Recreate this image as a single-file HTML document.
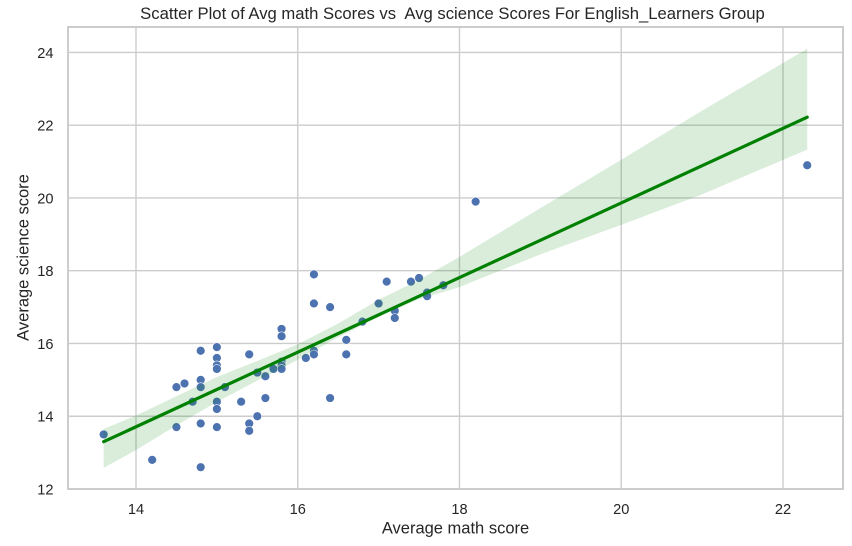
<!DOCTYPE html>
<html>
<head>
<meta charset="utf-8">
<title>Scatter Plot of Avg math Scores vs Avg science Scores</title>
<style>
html,body{margin:0;padding:0;background:#fff;}
body{width:852px;height:546px;overflow:hidden;}
svg{display:block;}
text{font-family:"Liberation Sans",Arial,sans-serif;fill:#262626;white-space:pre;}
</style>
</head>
<body>
<svg id="chart" width="852" height="546" viewBox="0 0 852 546">
  <rect x="0" y="0" width="852" height="546" fill="#fff"/>
  <g id="grid"></g>
  <g id="points"></g>
  <polygon id="band" fill="#008000" fill-opacity="0.145"></polygon>
  <line id="fit" stroke="#008000" stroke-width="3.2" stroke-linecap="round"></line>
  <rect x="68" y="27" width="775" height="462" fill="none" stroke="#cccccc" stroke-width="2"/>
  <g id="ticks"></g>
  <text x="452.5" y="19" text-anchor="middle" font-size="16.65">Scatter Plot of Avg math Scores vs  Avg science Scores For English_Learners Group</text>
  <text x="455.5" y="533.5" text-anchor="middle" font-size="16.5">Average math score</text>
  <text x="0" y="0" transform="translate(28.5 257.5) rotate(-90)" text-anchor="middle" font-size="16.5">Average science score</text>
</svg>
<script>
const xTicks = [14, 16, 18, 20, 22];
const yTicks = [12, 14, 16, 18, 20, 22, 24];
const mathScores = [13.6,14.2,14.5,14.5,14.6,14.7,14.8,14.8,14.8,14.8,14.8,15,15,15,15,15,15,15,15.1,15.3,15.4,15.4,15.4,15.5,15.5,15.6,15.6,15.7,15.8,15.8,15.8,15.8,15.8,16.1,16.2,16.2,16.2,16.2,16.4,16.4,16.6,16.6,16.8,17,17.1,17.2,17.2,17.4,17.5,17.6,17.6,17.8,18.2,22.3];
const scienceScores = [13.5,12.8,14.8,13.7,14.9,14.4,15.8,15.0,14.8,13.8,12.6,15.9,15.6,15.4,15.3,14.4,14.2,13.7,14.8,14.4,15.7,13.8,13.6,15.2,14.0,15.1,14.5,15.3,16.4,16.2,15.5,15.4,15.3,15.6,17.9,17.1,15.8,15.7,17.0,14.5,16.1,15.7,16.6,17.1,17.7,16.9,16.7,17.7,17.8,17.4,17.3,17.6,19.9,20.9];
const fitX = [13.6, 22.3];
const fitY = [13.3, 22.22];
const bandX = [13.6,14,14.5,15,15.5,16,16.5,17,17.5,18,19,20,21,22.3];
const bandUpper = [13.65,14.02,14.55,15.08,15.52,15.98,16.55,17.2,17.75,18.38,19.72,21.05,22.4,24.1];
const bandLower = [12.58,13.07,13.75,14.39,14.98,15.55,16.17,16.73,17.22,17.55,18.45,19.26,20.1,21.33];

const SVGNS = 'http://www.w3.org/2000/svg';
function xScale(v){ return 136 + (v - 14) * 80.87; }
function yScale(v){ return 489 - (v - 12) * 36.38; }

const gridG = document.getElementById('grid');
const pointsG = document.getElementById('points');
const ticksG = document.getElementById('ticks');

xTicks.forEach(function(t){
  const gl = document.createElementNS(SVGNS, 'line');
  
  
  gl.setAttribute('x1', xScale(t)); gl.setAttribute('x2', xScale(t));
  gl.setAttribute('y1', 27); gl.setAttribute('y2', 489);
  gl.setAttribute('stroke', '#cccccc'); gl.setAttribute('stroke-width', '1.4');
  gridG.appendChild(gl);
  const lb = document.createElementNS(SVGNS, 'text');
  
  
  lb.setAttribute('x', xScale(t)); lb.setAttribute('y', 514);
  lb.setAttribute('text-anchor', 'middle'); lb.setAttribute('font-size', '14.6');
  lb.textContent = t;
  ticksG.appendChild(lb);
});

yTicks.forEach(function(t){
  const gl = document.createElementNS(SVGNS, 'line');
  
  
  gl.setAttribute('x1', 68); gl.setAttribute('x2', 843);
  gl.setAttribute('y1', yScale(t)); gl.setAttribute('y2', yScale(t));
  gl.setAttribute('stroke', '#cccccc'); gl.setAttribute('stroke-width', '1.4');
  gridG.appendChild(gl);
  const lb = document.createElementNS(SVGNS, 'text');
  
  
  lb.setAttribute('x', 53.5); lb.setAttribute('y', yScale(t) + 5.5);
  lb.setAttribute('text-anchor', 'end'); lb.setAttribute('font-size', '14.6');
  lb.textContent = t;
  ticksG.appendChild(lb);
});

mathScores.forEach(function(m, i){
  const c = document.createElementNS(SVGNS, 'circle');
  
  
  c.setAttribute('cx', xScale(m));
  c.setAttribute('cy', yScale(scienceScores[i]));
  c.setAttribute('r', '4.4');
  c.setAttribute('fill', '#4c72b0');
  c.setAttribute('stroke', '#ffffff');
  c.setAttribute('stroke-width', '0.6');
  pointsG.appendChild(c);
});

const bandPts = [];
bandX.forEach(function(x, i){ bandPts.push(xScale(x) + ',' + yScale(bandUpper[i])); });
for (let i = bandX.length - 1; i >= 0; i--) { bandPts.push(xScale(bandX[i]) + ',' + yScale(bandLower[i])); }
document.getElementById('band').setAttribute('points', bandPts.join(' '));

const fit = document.getElementById('fit');
fit.setAttribute('x1', xScale(fitX[0]));
fit.setAttribute('y1', yScale(fitY[0]));
fit.setAttribute('x2', xScale(fitX[1]));
fit.setAttribute('y2', yScale(fitY[1]));
</script>
</body>
</html>
